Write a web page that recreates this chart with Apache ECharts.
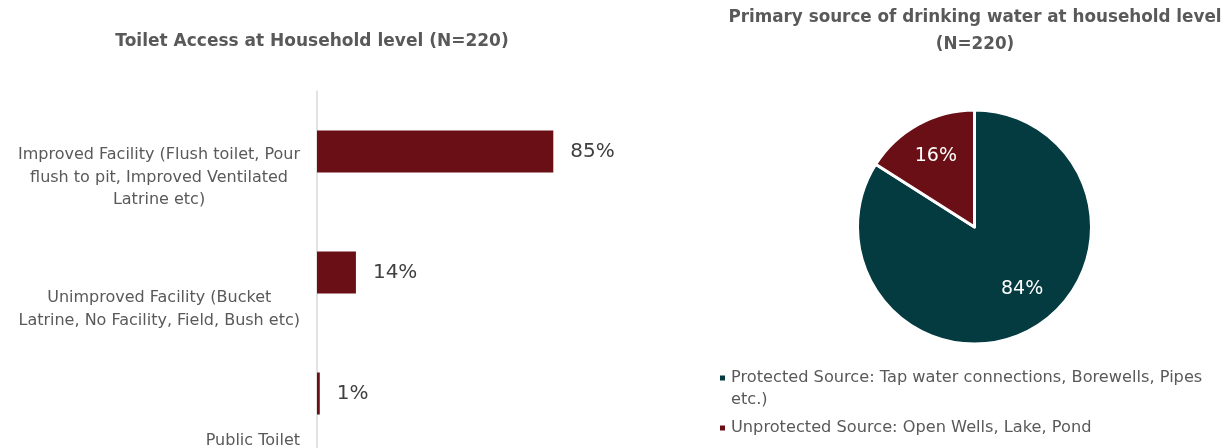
<!DOCTYPE html>
<html>
<head>
<meta charset="utf-8">
<script src="https://cdn.jsdelivr.net/npm/echarts@6/dist/echarts.min.js"></script>
<style>
  html, body { margin: 0; padding: 0; background: #fff; }
  #chart { width: 1225px; height: 448px; }
</style>
</head>
<body>
<div id="chart"></div>
<script>
// Toilet access (bar chart)
const toiletCategories = [
  'Improved Facility (Flush toilet, Pour\nflush to pit, Improved Ventilated\nLatrine etc)',
  'Unimproved Facility (Bucket\nLatrine, No Facility, Field, Bush etc)',
  'Public Toilet'
];
const toiletShares = [85, 14, 1];

// Drinking water source (pie chart)
const waterSources = [
  'Protected Source: Tap water connections, Borewells, Pipes etc.)',
  'Unprotected Source: Open Wells, Lake, Pond'
];
const waterShares = [84, 16];

const FONT = '"DejaVu Sans", "Noto Sans", sans-serif';
const RED = '#6a0f15';
const TEAL = '#033b40';
const GREY = '#595959';

// Legend markers: a 7px square inside a 7x44 box (zero-area edges fix the box),
// placed level with the first text line or centred for single-line entries.
const MARK_TOP = 'path://M0,0L7,0M0,44L7,44M0,7.5h7v7h-7z';
const MARK_MID = 'path://M0,0L7,0M0,44L7,44M0,18.5h7v7h-7z';

const chart = echarts.init(document.getElementById('chart'), null, { renderer: 'canvas' });

chart.setOption({
  animation: false,
  textStyle: { fontFamily: FONT },
  title: [
    {
      text: 'Toilet Access at Household level (N=220)',
      left: 312, top: 28, padding: 0, textAlign: 'center',
      textStyle: { fontFamily: FONT, fontSize: 17, fontWeight: 'bold', color: GREY, lineHeight: 27 }
    },
    {
      text: 'Primary source of drinking water at household level\n(N=220)',
      left: 975, top: 4, padding: 0, textAlign: 'center',
      textStyle: { fontFamily: FONT, fontSize: 16.8, fontWeight: 'bold', color: GREY, lineHeight: 27 }
    }
  ],
  grid: { left: 317, top: 91, width: 278, height: 363, outerBoundsMode: 'none', containLabel: false },
  xAxis: {
    type: 'value', min: 0, max: 100, show: false
  },
  yAxis: {
    type: 'category',
    inverse: true,
    data: toiletCategories,
    axisLine: { show: true, lineStyle: { color: '#d9d9d9', width: 1.5 } },
    axisTick: { show: false },
    axisLabel: {
      margin: 17,
      formatter: (value, index) =>
        '{sp' + index + '| }\n' + value.split('\n').map(l => '{t|' + l + '}').join('\n'),
      rich: {
        sp0: { fontSize: 1, lineHeight: 52 },
        sp1: { fontSize: 1, lineHeight: 74 },
        sp2: { fontSize: 1, lineHeight: 94 },
        t: { fontFamily: FONT, fontSize: 16, lineHeight: 22.5, color: GREY, align: 'center' }
      }
    }
  },
  legend: {
    orient: 'vertical',
    left: 718, top: 366, width: 500, height: 140, padding: 0,
    itemWidth: 7, itemHeight: 44, itemGap: -7,
    symbolKeepAspect: false,
    data: [
      { name: waterSources[0], icon: MARK_TOP },
      { name: waterSources[1], icon: MARK_MID }
    ],
    textStyle: {
      fontFamily: FONT, fontSize: 16.2, color: GREY, lineHeight: 22,
      width: 485, overflow: 'break'
    }
  },
  series: [
    {
      type: 'bar',
      data: toiletShares,
      barWidth: 42,
      itemStyle: { color: RED },
      label: {
        show: true, position: 'right', distance: 17,
        formatter: p => p.value + '%',
        fontFamily: FONT, fontSize: 20, color: '#404040'
      }
    },
    {
      type: 'pie',
      center: [974.5, 227],
      radius: 117,
      startAngle: 90,
      clockwise: true,
      data: waterSources.map((name, i) => ({ name, value: waterShares[i] })),
      color: [TEAL, RED],
      itemStyle: { borderColor: '#fff', borderWidth: 3 },
      label: {
        show: true, position: 'inside',
        formatter: p => p.value + '%',
        fontFamily: FONT, fontSize: 19, color: '#fff'
      },
      labelLine: { show: false },
      labelLayout: p => (p.dataIndex === 0 ? { dx: 18, dy: 8 } : { dx: -9, dy: -17 })
    }
  ]
});
</script>
</body>
</html>
